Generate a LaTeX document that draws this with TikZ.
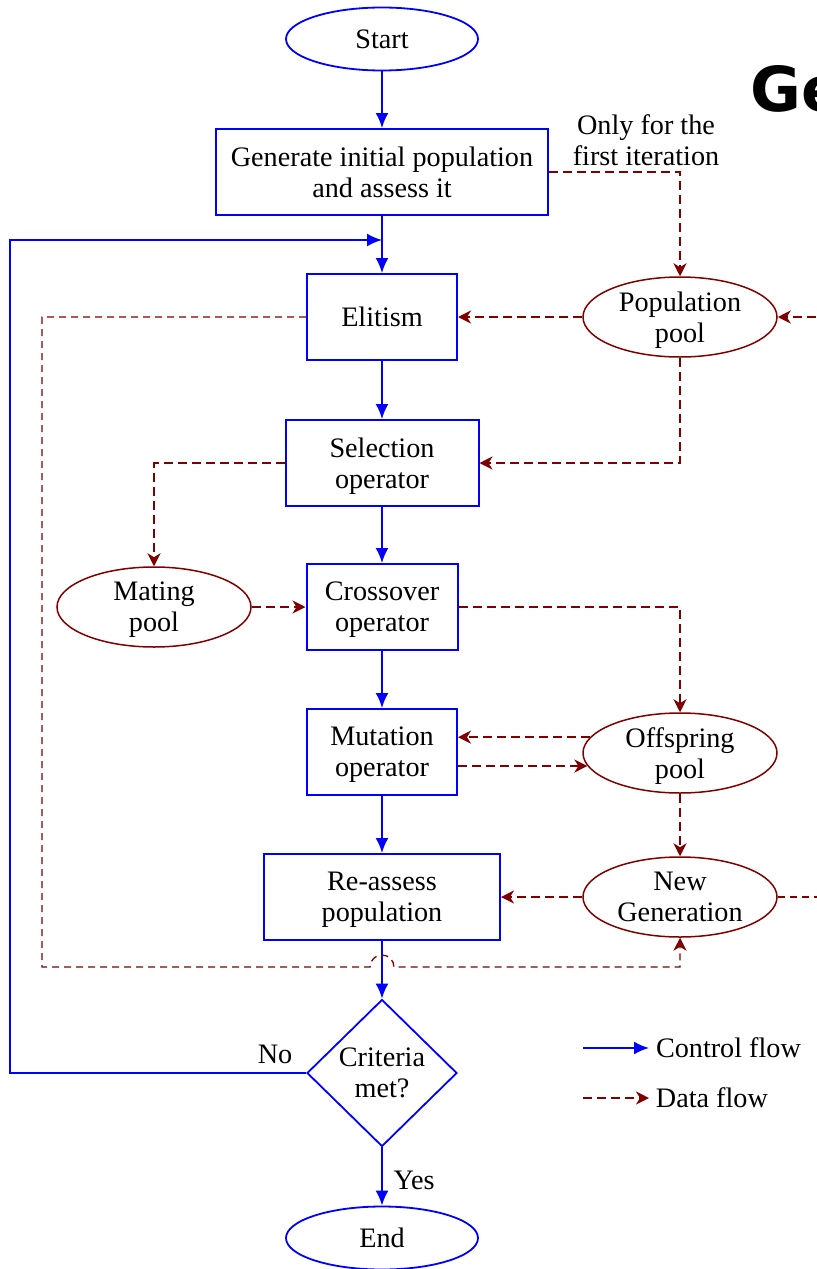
\documentclass[tikz,border=0pt]{standalone}
\usepackage{fontspec}
\setmainfont{Liberation Serif}
\newfontfamily\bigsans{DejaVu Sans}
\usetikzlibrary{arrows.meta,shapes.geometric,positioning}

\begin{document}
\begin{tikzpicture}[x=0.5pt, y=-0.5pt, font=\fontsize{14.1}{15.6}\selectfont,
                    every node/.append style={text=black}]
  \clip (0,0) rectangle (817,1269);

  % ---- Styles -------------------------------------------------
  \tikzstyle{process}=[draw=blue, line width=1pt, align=center, text depth=0pt,
                       inner sep=0pt, minimum height=43pt]
  \tikzstyle{pool}=[ellipse, draw=red!50!black, line width=0.75pt,
                    align=center, text depth=-1pt, inner sep=0pt,
                    minimum width=97pt, minimum height=40pt]
  \tikzstyle{terminal}=[ellipse, draw=blue, line width=0.9pt,
                        inner sep=0pt, minimum width=96pt, minimum height=31.5pt]
  \tikzstyle{decision}=[diamond, draw=blue, line width=0.9pt, align=center,
                        text depth=-2.5pt, inner sep=0pt,
                        minimum width=75pt, minimum height=73.5pt]
  \tikzstyle{control}=[blue, line width=1pt, -{Latex[length=7.5pt,width=6.5pt]}]
  \tikzstyle{data}=[red!50!black, line width=0.9pt, dash pattern=on 4.5pt off 2.5pt,
                    -{Stealth[length=6.5pt,width=6.5pt,inset=2pt]}]
  \tikzstyle{dataline}=[red!50!black, line width=0.65pt, dash pattern=on 3.5pt off 2.5pt]

  % ---- Main column --------------------------------------------
  \node[terminal] (start) at (382,39) {Start};
  \node[process, minimum width=166pt] (init) at (382,172)
    {Generate initial population\\and assess it};
  \node[process, minimum width=75pt] (elite) at (382,317) {Elitism};
  \node[process, minimum width=96.5pt] (select) at (382,463) {Selection\\operator};
  \node[process, minimum width=75.5pt] (cross) at (382,607) {Crossover\\operator};
  \node[process, minimum width=75pt] (mutate) at (382,752) {Mutation\\operator};
  \node[process, minimum width=118pt] (reassess) at (382,897) {Re-assess\\population};
  \node[decision] (crit) at (382,1073) {Criteria\\met?};
  \node[terminal] (end) at (382,1238) {End};

  % ---- Pools --------------------------------------------------
  \node[pool] (poppool)  at (680,317) {Population\\pool};
  \node[pool] (matepool) at (154,607) {Mating\\pool};
  \node[pool] (offpool)  at (680,753) {Offspring\\pool};
  \node[pool] (newgen)   at (680,897) {New\\Generation};

  % ---- Notes --------------------------------------------------
  \node[align=center] (note) at (646,140) {Only for the\\first iteration};
  \node[anchor=base west, inner sep=0pt,
        font=\bigsans\bfseries\fontsize{31}{31}\selectfont] (title) at (750,111) {Ge};

  % ---- Control flow -------------------------------------------
  \coordinate (back) at (10,240);
  \draw[control] (start) -- (init);
  \draw[control] (init) -- (elite);
  \draw[control] (elite) -- (select);
  \draw[control] (select) -- (cross);
  \draw[control] (cross) -- (mutate);
  \draw[control] (mutate) -- (reassess);
  \draw[control] (reassess) -- (crit);
  \draw[control] (crit) -- node[right, xshift=2pt, yshift=-2pt] (yes) {Yes} (end);
  \draw[control] (crit.west) -| (back) -- (init.south |- back);
  \node (no) at (275,1054) {No};

  % ---- Data flow ----------------------------------------------
  \coordinate (feedin)  at (830,317);
  \coordinate (feedout) at (830,897);
  \coordinate (lowL)    at (42,967);
  \coordinate (hop)     at (382,967);
  \draw[data] (init.east) -| (poppool.north);
  \draw[data] (feedin) -- (poppool.east);
  \draw[data] (poppool.west) -- (elite.east);
  \draw[data] (poppool.south) |- (select.east);
  \draw[data] (select.west) -| (matepool.north);
  \draw[data] (matepool.east) -- (cross.west);
  \draw[data] (cross.east) -| (offpool.north);
  \draw[data] (offpool.170.5) -- (offpool.170.5 -| mutate.east);
  \draw[data] (mutate.east |- offpool.188) -- (offpool.188);
  \draw[data] (offpool.south) -- (newgen.north);
  \draw[data] (newgen.west) -- (reassess.east);
  \draw[dataline] (newgen.east) -- (feedout);
  \draw[dataline, -{Stealth[length=6.5pt,width=6.5pt,inset=2pt]}]
    (elite.west) -| (lowL) -- ([xshift=-6pt]hop)
    arc[start angle=180, end angle=0, radius=6pt]
    -- (newgen.south |- lowL) -- (newgen.south);

  % ---- Legend -------------------------------------------------
  \coordinate (ctrlA) at (583,1048);
  \coordinate (ctrlB) at (649,1048);
  \coordinate (dataA) at (583,1098);
  \coordinate (dataB) at (649,1098);
  \draw[control] (ctrlA) -- (ctrlB) node[right, inner sep=3pt] (ctrltxt) {Control flow};
  \draw[data] (dataA) -- (dataB) node[right, inner sep=3pt] (datatxt) {Data flow};

\end{tikzpicture}
\end{document}
